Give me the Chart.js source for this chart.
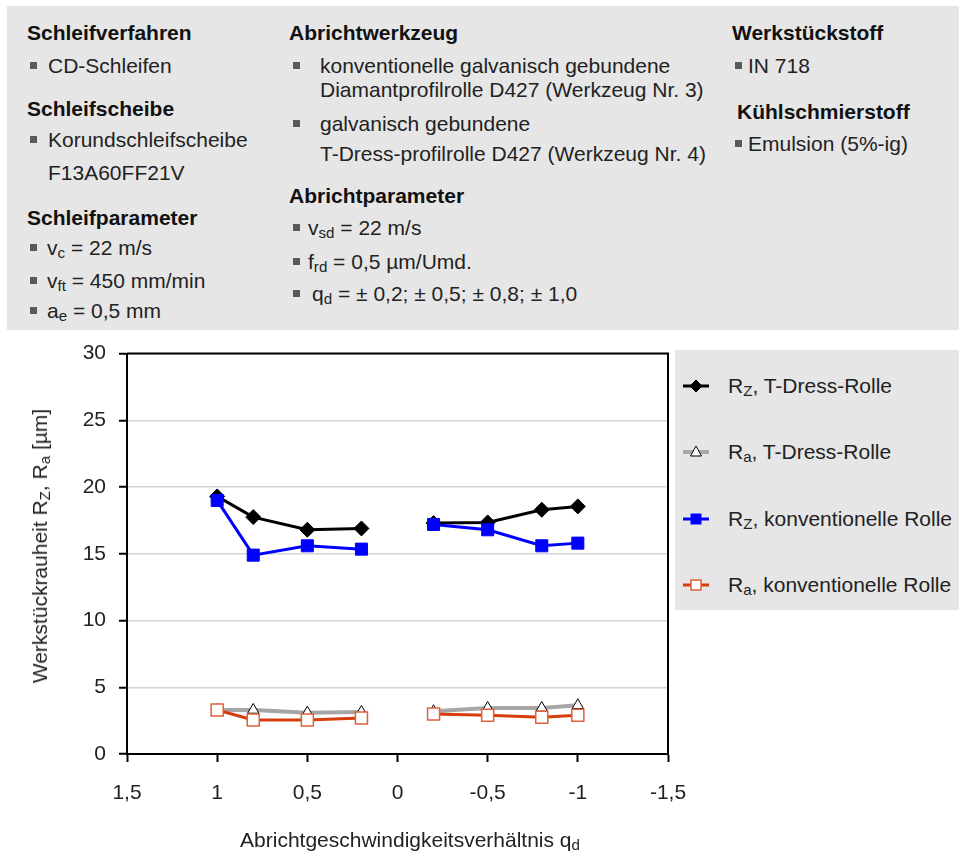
<!DOCTYPE html>
<html>
<head>
<meta charset="utf-8">
<script src="https://cdn.jsdelivr.net/npm/chart.js@4.4.1/dist/chart.umd.min.js"></script>
<style>
  body { margin:0; width:959px; height:856px; background:#fff; position:relative; overflow:hidden;
         font-family:"Liberation Sans",Arial,sans-serif; color:#222; }
  .panel { position:absolute; left:7px; top:6px; width:952px; height:324px; background:#e6e6e6; }
  .t { position:absolute; font-size:21px; line-height:24px; white-space:nowrap; }
  .h { font-weight:bold; color:#111; }
  .b { position:absolute; width:7px; height:7px; background:#5a5a5a; }
  sub { font-size:0.72em; vertical-align:-0.22em; line-height:0; }
  #wrap { position:absolute; left:0; top:328px; width:959px; height:528px; }
  #legend { position:absolute; left:675px; top:350px; width:284px; height:260px; background:#e6e6e6; }
  .li { position:absolute; left:0; width:284px; height:30px; }
  .li svg { position:absolute; left:6px; top:5px; }
  .li span { position:absolute; left:53px; top:3px; font-size:21px; line-height:24px; white-space:nowrap; }
  .ytitle { position:absolute; left:40px; top:546px; transform:translate(-50%,-50%) rotate(-90deg);
            font-size:21px; line-height:24px; white-space:nowrap; }
  .xtitle { position:absolute; left:410px; top:840px; transform:translate(-50%,-50%);
            font-size:21px; line-height:24px; white-space:nowrap; }
</style>
</head>
<body>
<div class="panel"></div>

<!-- Prozessdaten, Spalte 1 -->
<div class="t h" style="left:27px;top:21px">Schleifverfahren</div>
<div class="b" style="left:30px;top:62px"></div><div class="t" style="left:48px;top:54px">CD-Schleifen</div>
<div class="t h" style="left:27px;top:97px">Schleifscheibe</div>
<div class="b" style="left:30px;top:136px"></div><div class="t" style="left:48px;top:128px">Korundschleifscheibe</div>
<div class="t" style="left:48px;top:161px">F13A60FF21V</div>
<div class="t h" style="left:27px;top:206px">Schleifparameter</div>
<div class="b" style="left:30px;top:244px"></div><div class="t" style="left:47px;top:236px">v<sub>c</sub> = 22 m/s</div>
<div class="b" style="left:30px;top:277px"></div><div class="t" style="left:47px;top:269px">v<sub>ft</sub> = 450 mm/min</div>
<div class="b" style="left:30px;top:307px"></div><div class="t" style="left:47px;top:299px">a<sub>e</sub> = 0,5 mm</div>

<!-- Spalte 2 -->
<div class="t h" style="left:289px;top:21px">Abrichtwerkzeug</div>
<div class="b" style="left:293px;top:62px"></div><div class="t" style="left:320px;top:54px">konventionelle galvanisch gebundene</div>
<div class="t" style="left:320px;top:78px">Diamantprofilrolle D427 (Werkzeug Nr. 3)</div>
<div class="b" style="left:293px;top:120px"></div><div class="t" style="left:320px;top:112px">galvanisch gebundene</div>
<div class="t" style="left:320px;top:142px">T-Dress-profilrolle D427 (Werkzeug Nr. 4)</div>
<div class="t h" style="left:289px;top:184px">Abrichtparameter</div>
<div class="b" style="left:293px;top:224px"></div><div class="t" style="left:308px;top:216px">v<sub>sd</sub> = 22 m/s</div>
<div class="b" style="left:293px;top:258px"></div><div class="t" style="left:308px;top:250px">f<sub>rd</sub> = 0,5 µm/Umd.</div>
<div class="b" style="left:293px;top:290px"></div><div class="t" style="left:312px;top:282px">q<sub>d</sub> = ± 0,2; ± 0,5; ± 0,8; ± 1,0</div>

<!-- Spalte 3 -->
<div class="t h" style="left:732px;top:21px">Werkstückstoff</div>
<div class="b" style="left:735px;top:62px"></div><div class="t" style="left:748px;top:54px">IN 718</div>
<div class="t h" style="left:737px;top:100px">Kühlschmierstoff</div>
<div class="b" style="left:735px;top:140px"></div><div class="t" style="left:748px;top:132px">Emulsion (5%-ig)</div>

<div id="wrap"><canvas id="c" width="959" height="528"></canvas></div>
<div id="legend"></div>
<div class="ytitle">Werkstückrauheit R<sub>Z</sub>, R<sub>a</sub> [µm]</div>
<div class="xtitle">Abrichtgeschwindigkeitsverhältnis q<sub>d</sub></div>

<script>
// Abrichtgeschwindigkeitsverhältnis q_d
const qd = [1.0, 0.8, 0.5, 0.2, -0.2, -0.5, -0.8, -1.0];
// Rauheitswerte in µm
const rzTDress = [19.3, 17.75, 16.8, 16.9, 17.3, 17.35, 18.3, 18.55];
const raTDress = [3.3, 3.3, 3.1, 3.15, 3.2, 3.45, 3.45, 3.65];
const rzKonv   = [19.0, 14.9, 15.6, 15.35, 17.2, 16.8, 15.6, 15.8];
const raKonv   = [3.3, 2.55, 2.55, 2.7, 3.0, 2.9, 2.75, 2.9];
// Achsbeschriftung
const xTicks = [1.5, 1, 0.5, 0, -0.5, -1, -1.5];
const yTicks = [0, 5, 10, 15, 20, 25, 30];
const seriesNames = [
  ['R', 'Z', ', T-Dress-Rolle'],
  ['R', 'a', ', T-Dress-Rolle'],
  ['R', 'Z', ', konventionelle Rolle'],
  ['R', 'a', ', konventionelle Rolle']
];

// Punkte mit Lücke beim Vorzeichenwechsel (Gleich-/Gegenlauf getrennt)
function toPoints(values) {
  const pts = [];
  qd.forEach((q, i) => {
    if (i > 0 && Math.sign(q) !== Math.sign(qd[i - 1])) pts.push({ x: 0, y: null });
    pts.push({ x: q, y: values[i] });
  });
  return pts;
}

const datasets = [
  { data: toPoints(rzTDress), borderColor:'#000', borderWidth:3, pointStyle:'rectRot',
    pointRadius:7.5, pointBackgroundColor:'#000', pointBorderColor:'#000', pointBorderWidth:1, order:4 },
  { data: toPoints(raTDress), borderColor:'#a6a6a6', borderWidth:4, pointStyle:'triangle',
    pointRadius:6.5, pointBackgroundColor:'#fff', pointBorderColor:'#000', pointBorderWidth:1, order:3 },
  { data: toPoints(rzKonv), borderColor:'#0000ff', borderWidth:3, pointStyle:'rect',
    pointRadius:8.5, pointBackgroundColor:'#0000ff', pointBorderColor:'#0000ff', pointBorderWidth:1, order:2 },
  { data: toPoints(raKonv), borderColor:'#d63c0c', borderWidth:3, pointStyle:'rect',
    pointRadius:8.5, pointBackgroundColor:'#fff', pointBorderColor:'#e0603a', pointBorderWidth:1.5, order:1 }
];
datasets.forEach(d => { d.spanGaps = false; d.tension = 0; d.fill = false; d.pointHoverRadius = d.pointRadius; });

const fmt = v => String(v).replace('.', ',');
const tickFont = { family:'"Liberation Sans",Arial,sans-serif', size:21 };

// Rahmen oben und rechts um den Plotbereich
const frame = {
  id:'frame',
  beforeDatasetsDraw(chart) {
    const a = chart.chartArea, ctx = chart.ctx;
    ctx.save();
    ctx.strokeStyle = '#000';
    ctx.lineWidth = 2;
    ctx.beginPath();
    ctx.moveTo(a.left, a.top); ctx.lineTo(a.right, a.top); ctx.lineTo(a.right, a.bottom);
    ctx.stroke();
    ctx.restore();
  }
};

const chart = new Chart(document.getElementById('c'), {
  type: 'line',
  data: { datasets },
  options: {
    responsive:false, animation:false, devicePixelRatio:1,
    layout: { padding: { top:0, right:291, left:0, bottom:0 } },
    plugins: { legend:{ display:false }, tooltip:{ enabled:false } },
    scales: {
      x: {
        type:'linear', reverse:true, min:-1.5, max:1.5,
        afterBuildTicks: s => { s.ticks = xTicks.map(v => ({ value:v })); },
        afterFit: s => { s.height = 102; },
        ticks: { callback: v => fmt(v), font:tickFont, color:'#222', padding:19, maxRotation:0, autoSkip:false },
        grid: { drawOnChartArea:false, tickColor:'#000', tickLength:8, tickWidth:2 },
        border: { color:'#000', width:2 }
      },
      y: {
        type:'linear', min:0, max:30,
        afterBuildTicks: s => { s.ticks = yTicks.map(v => ({ value:v })); },
        afterFit: s => { s.width = 127; },
        ticks: { callback: v => fmt(v), font:tickFont, color:'#222', padding:13 },
        grid: { color:'#d4d4d4', lineWidth:1.5, tickColor:'#000', tickLength:8, tickWidth:2 },
        border: { color:'#000', width:2 }
      }
    }
  },
  plugins: [frame]
});

// Legende aus den Datensatz-Stilen aufbauen
const legend = document.getElementById('legend');
const rowCenters = [36, 102, 169, 235];
const NS = 'http://www.w3.org/2000/svg';
datasets.forEach((d, i) => {
  const row = document.createElement('div');
  row.className = 'li';
  row.style.top = (rowCenters[i] - 15) + 'px';
  const svg = document.createElementNS(NS, 'svg');
  svg.setAttribute('width', 32); svg.setAttribute('height', 20);
  const line = document.createElementNS(NS, 'line');
  line.setAttribute('x1', 2); line.setAttribute('x2', 28); line.setAttribute('y1', 10); line.setAttribute('y2', 10);
  line.setAttribute('stroke', d.borderColor); line.setAttribute('stroke-width', d.borderWidth);
  svg.appendChild(line);
  let m;
  if (d.pointStyle === 'rectRot') {
    m = document.createElementNS(NS, 'polygon');
    m.setAttribute('points', '15,4 21,10 15,16 9,10');
  } else if (d.pointStyle === 'triangle') {
    m = document.createElementNS(NS, 'polygon');
    m.setAttribute('points', '15,4 20.5,14 9.5,14');
  } else {
    m = document.createElementNS(NS, 'rect');
    m.setAttribute('x', 10); m.setAttribute('y', 5); m.setAttribute('width', 10); m.setAttribute('height', 10);
  }
  m.setAttribute('fill', d.pointBackgroundColor);
  m.setAttribute('stroke', d.pointBorderColor);
  m.setAttribute('stroke-width', d.pointBorderWidth);
  svg.appendChild(m);
  row.appendChild(svg);
  const sp = document.createElement('span');
  const n = seriesNames[i];
  sp.innerHTML = n[0] + '<sub>' + n[1] + '</sub>' + n[2];
  row.appendChild(sp);
  legend.appendChild(row);
});
</script>
</body>
</html>
